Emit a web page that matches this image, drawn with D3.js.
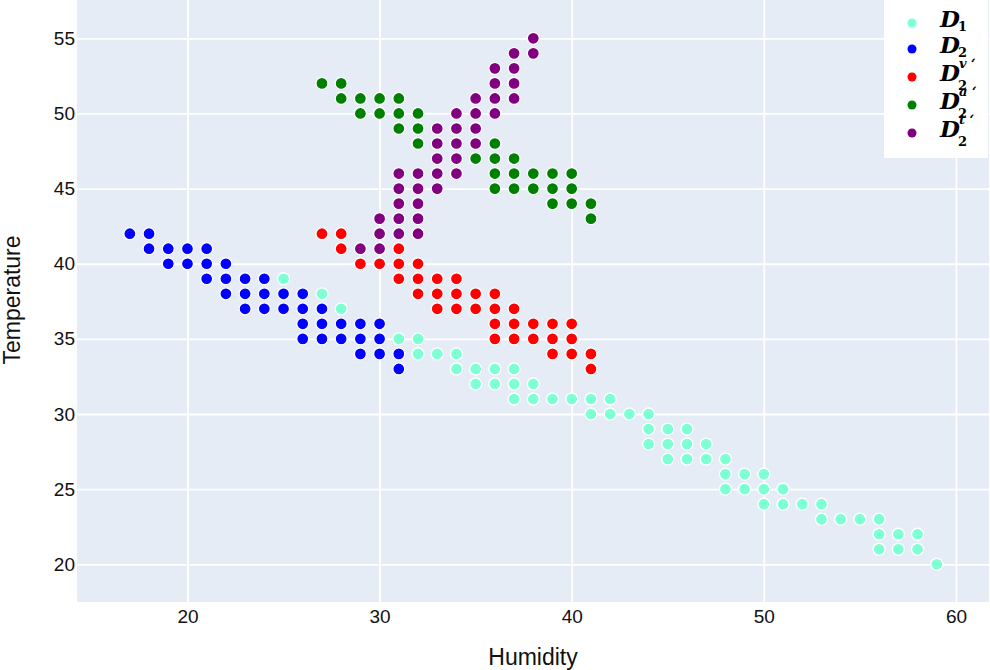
<!DOCTYPE html>
<html>
<head>
<meta charset="utf-8">
<script src="https://cdn.jsdelivr.net/npm/d3@7"></script>
<style>
  body { margin: 0; background: #fff; }
  svg { display: block; font-family: "Liberation Sans", Arial, sans-serif; }
</style>
</head>
<body>
<div id="canvas"></div>
<script>
// [humidity, temperature] pairs per series
const d1 = [
  [25,39],[27,38],[28,37],[31,35],[32,35],[32,34],[33,34],[34,34],
  [34,33],[35,33],[36,33],[37,33],[35,32],[36,32],[37,32],[38,32],
  [37,31],[38,31],[39,31],[40,31],[41,31],[42,31],[41,30],[42,30],[43,30],[44,30],
  [44,29],[45,29],[46,29],[44,28],[45,28],[46,28],[47,28],
  [45,27],[46,27],[47,27],[48,27],[48,26],[49,26],[50,26],
  [48,25],[49,25],[50,25],[51,25],[50,24],[51,24],[52,24],[53,24],
  [53,23],[54,23],[55,23],[56,23],[56,22],[57,22],[58,22],
  [56,21],[57,21],[58,21],[59,20]
];
const d2 = [
  [17,42],[18,42],[18,41],[19,41],[20,41],[21,41],[19,40],[20,40],[21,40],[22,40],
  [21,39],[22,39],[23,39],[24,39],[22,38],[23,38],[24,38],[25,38],[26,38],
  [23,37],[24,37],[25,37],[26,37],[27,37],[26,36],[27,36],[28,36],[29,36],[30,36],
  [26,35],[27,35],[28,35],[29,35],[30,35],[29,34],[30,34],[31,34],[31,33]
];
const d2v = [
  [27,42],[28,42],[28,41],[31,41],[29,40],[30,40],[31,40],[32,40],
  [31,39],[32,39],[33,39],[34,39],[32,38],[33,38],[34,38],[35,38],[36,38],
  [33,37],[34,37],[35,37],[36,37],[37,37],[36,36],[37,36],[38,36],[39,36],[40,36],
  [36,35],[37,35],[38,35],[39,35],[40,35],[39,34],[40,34],[41,34],[41,33]
];
const d2a = [
  [27,52],[28,52],[28,51],[29,51],[30,51],[31,51],[29,50],[30,50],[31,50],[32,50],
  [31,49],[32,49],[32,48],[36,48],[35,47],[36,47],[37,47],
  [36,46],[37,46],[38,46],[39,46],[40,46],[36,45],[37,45],[38,45],[39,45],[40,45],
  [39,44],[40,44],[41,44],[41,43]
];
const d2t = [
  [38,55],[37,54],[38,54],[36,53],[37,53],[36,52],[37,52],[35,51],[36,51],[37,51],
  [34,50],[35,50],[36,50],[33,49],[34,49],[35,49],[33,48],[34,48],[35,48],[33,47],[34,47],
  [31,46],[32,46],[33,46],[34,46],[31,45],[32,45],[33,45],[31,44],[32,44],
  [30,43],[31,43],[32,43],[30,42],[31,42],[32,42],[29,41],[30,41]
];

const seriesSup = [null, null, "v", "a", "t"];
const seriesSub = ["1", "2", "2", "2", "2"];
const seriesColors = ["#7fffd4", "#0000ff", "#ff0000", "#008000", "#800080"];
const seriesData = [d1, d2, d2v, d2a, d2t];

const xTicks = [20, 30, 40, 50, 60];
const yTicks = [20, 25, 30, 35, 40, 45, 50, 55];

const W = 990, H = 670;
const margin = { top: 0, right: 1, bottom: 68, left: 77 },
    width = W - margin.left - margin.right,
    height = H - margin.top - margin.bottom;

const svgRoot = d3.select("#canvas")
    .append("svg")
    .attr("width", W)
    .attr("height", H);

const svg = svgRoot.append("g")
    .attr("transform", `translate(${margin.left},${margin.top})`);

const x = d3.scaleLinear().domain([14.25, 61.72]).range([0, width]);
const y = d3.scaleLinear().domain([17.49, 57.55]).range([height, 0]);

// background
svg.append("rect")
    .attr("width", width)
    .attr("height", height)
    .attr("fill", "#e5ecf6");

// grid lines
svg.append("g")
    .call(d3.axisBottom(x).tickValues(xTicks).tickSize(height).tickFormat(""))
    .call(g => g.select(".domain").remove())
    .call(g => g.selectAll("line").attr("stroke", "#fff").attr("stroke-width", 1.8));
svg.append("g")
    .call(d3.axisLeft(y).tickValues(yTicks).tickSize(-width).tickFormat(""))
    .call(g => g.select(".domain").remove())
    .call(g => g.selectAll("line").attr("stroke", "#fff").attr("stroke-width", 1.8));

// tick labels
svg.append("g")
    .attr("transform", `translate(0,${height})`)
    .call(d3.axisBottom(x).tickValues(xTicks).tickSize(0).tickPadding(8))
    .call(g => g.select(".domain").remove())
    .call(g => g.selectAll("text")
        .attr("font-size", 19).attr("fill", "#111")
        .attr("font-family", "Liberation Sans, Arial, sans-serif"));
svg.append("g")
    .call(d3.axisLeft(y).tickValues(yTicks).tickSize(0).tickPadding(2))
    .call(g => g.select(".domain").remove())
    .call(g => g.selectAll("text")
        .attr("font-size", 19).attr("fill", "#111")
        .attr("font-family", "Liberation Sans, Arial, sans-serif"));

// axis titles
svgRoot.append("text")
    .attr("x", margin.left + width / 2)
    .attr("y", 665)
    .attr("text-anchor", "middle")
    .attr("font-size", 23)
    .attr("fill", "#111")
    .text("Humidity");
svgRoot.append("text")
    .attr("transform", "translate(20,300) rotate(-90)")
    .attr("text-anchor", "middle")
    .attr("font-size", 23)
    .attr("fill", "#111")
    .text("Temperature");

// points
seriesData.forEach((data, i) => {
    svg.append("g")
        .selectAll("circle")
        .data(data)
        .enter()
        .append("circle")
        .attr("cx", d => x(d[0]))
        .attr("cy", d => y(d[1]))
        .attr("r", 6)
        .attr("fill", seriesColors[i])
        .attr("stroke", "#fff")
        .attr("stroke-width", 1.3);
});

// legend
const legend = svgRoot.append("g").attr("transform", "translate(884,0)");
legend.append("rect")
    .attr("width", 104)
    .attr("height", 158)
    .attr("fill", "#fff");

const mathFont = "'DejaVu Serif', 'Liberation Serif', serif";
const rowY = [23, 49, 77, 105, 133];
seriesSub.forEach((sub, i) => {
    const row = legend.append("g").attr("transform", `translate(0,${rowY[i]})`);
    row.append("circle")
        .attr("cx", 28)
        .attr("cy", 0)
        .attr("r", 4.5)
        .attr("fill", seriesColors[i]);
    // one text element with math-like sub/superscripts
    const label = row.append("text")
        .attr("x", 56)
        .attr("y", 4)
        .attr("font-family", mathFont)
        .attr("font-weight", "bold")
        .attr("fill", "#000");
    const dSpan = label.append("tspan")
        .attr("font-style", "italic")
        .attr("font-size", 23)
        .text("D");
    const subX = 56 + dSpan.node().getComputedTextLength() - 2;
    const hasSup = seriesSup[i] !== null;
    label.append("tspan")
        .attr("x", subX)
        .attr("y", hasSup ? 13 : 8)
        .attr("font-size", 13)
        .text(sub);
    if (hasSup) {
        label.append("tspan")
            .attr("x", subX + 1)
            .attr("y", -9)
            .attr("font-style", "italic")
            .attr("font-size", 13)
            .text(seriesSup[i] + " \u2018");
    }
});
</script>
</body>
</html>
